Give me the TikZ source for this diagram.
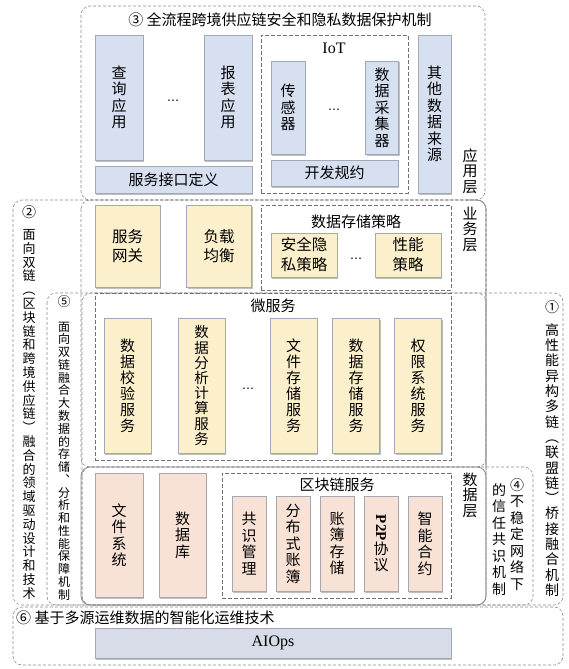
\documentclass[tikz,border=0pt]{standalone}
\usepackage{fontspec}
\usepackage{graphicx}
\setmainfont{Liberation Serif}
\newfontfamily\cjk{Noto Sans CJK SC}
\newfontfamily\dejavu{DejaVu Sans}
\usetikzlibrary{shadows}
\definecolor{blueC}{HTML}{D7E0F1}
\definecolor{yellowC}{HTML}{FCF0CC}
\definecolor{pinkC}{HTML}{F8E2D6}
\definecolor{aiC}{HTML}{D7DCE8}
\definecolor{boxline}{HTML}{A3A8B2}
\definecolor{frameC}{HTML}{8C8C8C}
\definecolor{innerC}{HTML}{707070}
\begin{document}
\begin{tikzpicture}[x=1pt,y=-1pt,
 bx/.style={draw=boxline, line width=0.5pt, inner sep=0pt, align=center,
   drop shadow={shadow xshift=1.2pt, shadow yshift=-1.5pt, fill=black, opacity=0.25},
   font=\cjk\fontsize{15}{16.5}\selectfont},
 bluebox/.style={bx, fill=blueC},
 yelbox/.style={bx, fill=yellowC},
 pinkbox/.style={bx, fill=pinkC},
 aibox/.style={bx, fill=aiC},
 sideframe/.style={draw=frameC, line width=0.6pt, dash pattern=on 3pt off 2pt, rounded corners=9pt},
 dbox/.style={draw=innerC, line width=0.6pt, dash pattern=on 4pt off 2pt, inner sep=0pt},
 layerframe/.style={draw=frameC, line width=0.8pt, rounded corners=9pt},
 lbl/.style={font=\cjk\fontsize{15}{15.5}\selectfont, align=center, inner sep=0pt},
 ellip/.style={font=\dejavu\fontsize{12}{12}\selectfont, inner sep=0pt},
]
\useasboundingbox (0,0) rectangle (568,669);

% ---------- frames ----------
\draw[sideframe] (81,6) rectangle (485,200);
\draw[sideframe] (13,200) rectangle (486,605);
\draw[sideframe] (81,200) rectangle (486,467);
\draw[sideframe] (47,293) rectangle (486,605);
\draw[sideframe] (82,293) rectangle (563,605);
\draw[sideframe] (82,467) rectangle (533,605);
\draw[sideframe] (13,607) rectangle (563,665);
\draw[layerframe] (81,467) rectangle (486,605);
\draw[layerframe] (466,200) -- (486,200) -- (486,467);

% ---------- application layer ----------
\node[lbl] (t3) at (280,20) {③ 全流程跨境供应链安全和隐私数据保护机制};
\node[bluebox, minimum width=48, minimum height=125] (q) at (119,97.5) {查\\询\\应\\用};
\node[ellip] (d1) at (173,102) {⋯};
\node[bluebox, minimum width=48, minimum height=125] (r) at (228,97.5) {报\\表\\应\\用};
\node[bluebox, minimum width=157, minimum height=27] (api) at (173.5,179.5) {服务接口定义};
\node[dbox, minimum width=147, minimum height=158] (iot) at (334.5,114) {};
\node[font=\fontsize{16}{16}\selectfont, inner sep=0pt] (iotl) at (334,48) {IoT};
\node[bluebox, minimum width=34, minimum height=93] (s) at (288,107.5) {传\\感\\器};
\node[ellip] (d2) at (334,111) {⋯};
\node[bluebox, minimum width=33, minimum height=93] (c) at (382,107.5) {数\\据\\采\\集\\器};
\node[bluebox, minimum width=127, minimum height=26] (dev) at (334.5,173) {开发规约};
\node[bluebox, minimum width=33, minimum height=158] (o) at (434.5,114) {其\\他\\数\\据\\来\\源};
\node[lbl] (la) at (470,171) {应\\用\\层};

% ---------- business layer ----------
\node[yelbox, minimum width=65, minimum height=82, font=\cjk\fontsize{15.5}{19}\selectfont] (gw) at (127.5,246) {服务\\网关};
\node[yelbox, minimum width=65, minimum height=82, font=\cjk\fontsize{15.5}{19}\selectfont] (lb) at (219,246) {负载\\均衡};
\node[dbox, minimum width=190, minimum height=85] (st) at (356,247.5) {};
\node[lbl] (stl) at (356,222) {数据存储策略};
\node[yelbox, minimum width=66, minimum height=44, font=\cjk\fontsize{15.5}{20}\selectfont] (sec) at (304,255) {安全隐\\私策略};
\node[ellip] (d3) at (356,260) {⋯};
\node[yelbox, minimum width=66, minimum height=44, font=\cjk\fontsize{15.5}{20}\selectfont] (perf) at (408,255) {性能\\策略};
\node[lbl] (lbz) at (470,229) {业\\务\\层};

% ---------- micro services ----------
\node[dbox, minimum width=356, minimum height=167] (ms) at (273,376.5) {};
\node[lbl] (msl) at (273,306) {微服务};
\node[yelbox, minimum width=47, minimum height=135, font=\cjk\fontsize{15}{16}\selectfont] (v1) at (127.5,385.5) {数\\据\\校\\验\\服\\务};
\node[yelbox, minimum width=47, minimum height=135, font=\cjk\fontsize{14.5}{15.2}\selectfont] (v2) at (201.5,385.5) {数\\据\\分\\析\\计\\算\\服\\务};
\node[ellip] (d4) at (248,390) {⋯};
\node[yelbox, minimum width=47, minimum height=135, font=\cjk\fontsize{15}{16}\selectfont] (v3) at (293.5,385.5) {文\\件\\存\\储\\服\\务};
\node[yelbox, minimum width=47, minimum height=135, font=\cjk\fontsize{15}{16}\selectfont] (v4) at (356,385.5) {数\\据\\存\\储\\服\\务};
\node[yelbox, minimum width=47, minimum height=135, font=\cjk\fontsize{15}{16}\selectfont] (v5) at (418,385.5) {权\\限\\系\\统\\服\\务};

% ---------- data layer ----------
\node[pinkbox, minimum width=48, minimum height=124] (fs) at (119,535) {文\\件\\系\\统};
\node[pinkbox, minimum width=47, minimum height=124] (db) at (182.5,535) {数\\据\\库};
\node[dbox, minimum width=229, minimum height=125] (bc) at (336.5,535.5) {};
\node[lbl] (bcl) at (337,485) {区块链服务};
\node[pinkbox, minimum width=34, minimum height=95] (b1) at (249,543.5) {共\\识\\管\\理};
\node[pinkbox, minimum width=34, minimum height=95] (b2) at (293,543.5) {分\\布\\式\\账\\簿};
\node[pinkbox, minimum width=34, minimum height=95] (b3) at (337,543.5) {账\\簿\\存\\储};
\node[pinkbox, minimum width=34, minimum height=95] (b4) at (381,543.5) {\rotatebox{-90}{\rmfamily\bfseries\fontsize{15}{15}\selectfont P2P}\\协\\议};
\node[pinkbox, minimum width=34, minimum height=95] (b5) at (425,543.5) {智\\能\\合\\约};
\node[lbl] (ld) at (470,495) {数\\据\\层};

% ---------- AIOps ----------
\node[lbl, anchor=west] (t6) at (16,618) {⑥ 基于多源运维数据的智能化运维技术};
\node[aibox, minimum width=356, minimum height=30, font=\fontsize{16}{16}\selectfont] (ai) at (273,643) {AIOps};

% ---------- side texts ----------
\node[lbl, font=\cjk\fontsize{14}{14}\selectfont] (n2) at (29,212) {②};
\node[lbl, font=\cjk\fontsize{13}{13.8}\selectfont] (t2) at (29,414.4) {面\\向\\双\\链\\︵\\区\\块\\链\\和\\跨\\境\\供\\应\\链\\︶\\融\\合\\的\\领\\域\\驱\\动\\设\\计\\和\\技\\术};
\node[lbl, font=\cjk\fontsize{13}{13}\selectfont] (n5) at (64,302) {⑤};
\node[lbl, font=\cjk\fontsize{12}{12.76}\selectfont] (t5) at (64,461) {面\\向\\双\\链\\融\\合\\大\\数\\据\\的\\存\\储\\︑\\分\\析\\和\\性\\能\\保\\障\\机\\制};
\node[lbl, font=\cjk\fontsize{14}{14}\selectfont] (n1) at (552,307) {①};
\node[lbl, font=\cjk\fontsize{14}{15.3}\selectfont] (t1) at (552,460) {高\\性\\能\\异\\构\\多\\链\\︵\\联\\盟\\链\\︶\\桥\\接\\融\\合\\机\\制};
\node[lbl, font=\cjk\fontsize{14}{14}\selectfont] (n4) at (517,485) {④};
\node[lbl, font=\cjk\fontsize{14}{16.5}\selectfont] (t4a) at (517,543.25) {不\\稳\\定\\网\\络\\下};
\node[lbl, font=\cjk\fontsize{14}{16.5}\selectfont] (t4b) at (499,539.5) {的\\信\\任\\共\\识\\机\\制};
\end{tikzpicture}
\end{document}
